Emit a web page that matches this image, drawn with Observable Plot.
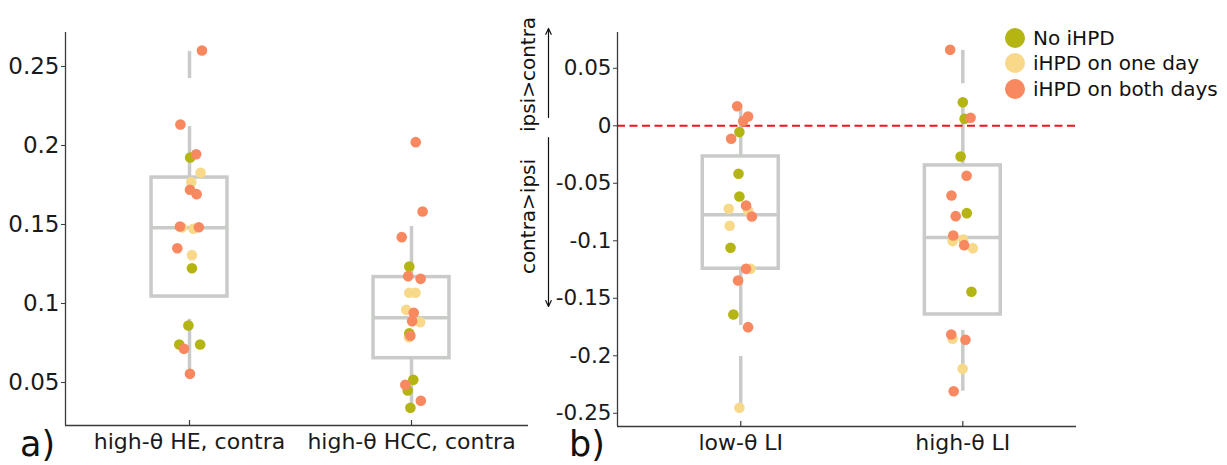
<!DOCTYPE html>
<html><head><meta charset="utf-8">
<script src="https://cdn.jsdelivr.net/npm/d3@7"></script>
<script src="https://cdn.jsdelivr.net/npm/@observablehq/plot@0.6"></script>
<style>
body{margin:0;background:#fff;font-family:"DejaVu Sans",sans-serif;}
#fig{position:relative;width:1227px;height:465px;overflow:hidden;background:#fff;}
#fig > div, #fig > svg{position:absolute;}
.lg{display:flex;align-items:center;height:25.5px;font-size:20px;color:#111;white-space:nowrap;}
.lg span.c{display:inline-block;width:20px;height:20px;border-radius:50%;margin-right:8px;}
</style></head><body><div id="fig"></div>
<script>
// ---- groups / legend ----
const groups = ["No iHPD", "iHPD on one day", "iHPD on both days"];
const groupColors = ["#b4b512", "#f8d98a", "#f8885f"];
const drawOrder = [1, 0, 2]; // yellow, green, orange on top

// ---- panel a) ----
const catsA = ["high-θ HE, contra", "high-θ HCC, contra"];
const yTicksA = [0.05, 0.1, 0.15, 0.2, 0.25];
const heValues = [0.2601,0.2133,0.1945,0.1924,0.1827,0.1768,0.1720,0.1692,0.1481,0.1487,0.1473,0.1483,0.1350,0.1306,0.1223,0.0861,0.0741,0.0741,0.0713,0.0555];
const heGroups = [2,2,2,0,1,1,2,2,1,2,1,2,2,1,0,0,0,0,2,2];
const heJitter = [0.056,-0.041,0.030,0.003,0.050,0.008,0.002,0.032,-0.034,-0.043,0.018,0.042,-0.055,0.011,0.011,-0.005,-0.046,0.048,-0.025,0.002];
const hccValues = [0.2021,0.1582,0.1420,0.1234,0.1173,0.1156,0.1068,0.1068,0.0960,0.0941,0.0888,0.0882,0.0812,0.0787,0.0796,0.0517,0.0486,0.0450,0.0385,0.0340];
const hccGroups = [2,2,2,0,2,2,1,1,1,2,2,1,0,1,2,0,2,0,2,0];
const hccJitter = [0.019,0.050,-0.044,-0.010,-0.015,0.041,-0.010,0.018,-0.024,0.010,0.003,0.039,-0.010,-0.012,-0.005,0.008,-0.028,-0.017,0.042,-0.005];
const q1A = [0.1044, 0.0654];
const medA = [0.148, 0.091];
const q3A = [0.1797, 0.1167];
const whiskerCatA = [0, 0, 0, 1, 1];
const whiskerFromA = [0.1797, 0.2424, 0.090, 0.1167, 0.0654];
const whiskerToA = [0.212, 0.2595, 0.057, 0.1487, 0.033];

// ---- panel b) ----
const catsB = ["low-θ LI", "high-θ LI"];
const yTicksB = [0.05, 0, -0.05, -0.1, -0.15, -0.2, -0.25];
const lowValues = [0.0170,0.0081,0.0040,-0.0055,-0.0113,-0.0417,-0.0615,-0.0722,-0.0737,-0.0693,-0.0789,-0.0870,-0.1061,-0.1244,-0.1244,-0.1345,-0.1641,-0.1751,-0.2452];
const lowGroups = [2,2,2,0,2,0,0,1,1,2,2,1,0,1,2,2,0,2,1];
const lowJitter = [-0.016,0.033,0.011,-0.006,-0.043,-0.010,-0.006,-0.054,0.033,0.024,0.050,-0.050,-0.046,0.044,0.024,-0.012,-0.033,0.033,-0.006];
const highValues = [0.0661,0.0205,0.0061,0.0070,-0.0267,-0.0435,-0.0606,-0.0760,-0.0786,-0.1003,-0.0954,-0.0989,-0.1038,-0.1064,-0.1443,-0.1852,-0.1815,-0.1861,-0.2113,-0.2308];
const highGroups = [2,0,0,2,0,2,2,0,2,1,2,1,2,1,0,1,2,2,1,2];
const highJitter = [-0.057,0,0.008,0.035,-0.010,0.017,-0.051,0.018,-0.032,-0.046,-0.043,0.002,0.006,0.045,0.039,-0.046,-0.052,0.012,-0.001,-0.041];
const q1B = [-0.1243, -0.1641];
const medB = [-0.0774, -0.0971];
const q3B = [-0.0267, -0.0345];
const whiskerCatB = [0, 0, 0, 1, 1, 1];
const whiskerFromB = [-0.0267, -0.1243, -0.2006, 0.0655, 0.022, -0.178];
const whiskerToB = [0.0148, -0.1737, -0.2461, 0.0365, -0.0345, -0.2308];
const referenceLine = [0];
const noteTexts = ["ipsi>contra", "contra>ipsi"];
const noteTextY = [0.0446, -0.0789];
const noteArrowFrom = [0.0072, -0.0102];
const noteArrowTo = [0.0846, -0.1571];

// ---- helpers ----
const boxGray = "#c8cbc8";
const boxHalf = 0.171;
const font = "DejaVu Sans";

function points(cat, values, grp, jit) {
  return values.map((v, i) => ({x: cat + jit[i], y: v, g: grp[i]}));
}
function sortPts(arr) {
  return arr.slice().sort((a, b) => drawOrder.indexOf(a.g) - drawOrder.indexOf(b.g));
}
function boxes(q1, med, q3) {
  return q1.map((_, i) => ({cat: i, q1: q1[i], med: med[i], q3: q3[i]}));
}
function whiskers(c, f, t) {
  return c.map((_, i) => ({cat: c[i], from: f[i], to: t[i]}));
}
const fmt = d => String(+d.toFixed(2));

function panel({width, marginLeft, marginRight, marginBottom, xDomain, yDomain, cats, yTicks, pts, bx, wk, tickFont, extraBefore = [], extraAfter = []}) {
  const ymin = yDomain[0];
  return Plot.plot({
    width, height: 465, marginLeft, marginRight, marginTop: 32, marginBottom,
    style: {background: "none", overflow: "visible", fontFamily: font, color: "#1a1a1a"},
    x: {domain: xDomain},
    y: {domain: yDomain},
    marks: [
      Plot.ruleX(wk, {x: "cat", y1: "from", y2: "to", stroke: boxGray, strokeWidth: 3.5}),
      Plot.rect(bx, {x1: d => d.cat - boxHalf, x2: d => d.cat + boxHalf, y1: "q1", y2: "q3", fill: "none", stroke: boxGray, strokeWidth: 3.5}),
      Plot.ruleY(bx, {x1: d => d.cat - boxHalf, x2: d => d.cat + boxHalf, y: "med", stroke: boxGray, strokeWidth: 3.5}),
      ...extraBefore,
      Plot.dot(sortPts(pts), {x: "x", y: "y", r: 5.3, fill: d => groupColors[d.g], stroke: "none"}),
      Plot.ruleX([xDomain[0]], {stroke: "#3a3a3a", strokeWidth: 1.3}),
      Plot.ruleY([ymin], {stroke: "#3a3a3a", strokeWidth: 1.3}),
      Plot.ruleX([0, 1], {y1: ymin, y2: ymin, insetTop: -5, stroke: "#3a3a3a", strokeWidth: 1.2}),
      Plot.axisY({ticks: yTicks, tickFormat: fmt, tickSize: 4, tickPadding: 2, fontSize: tickFont, stroke: "#3a3a3a"}),
      Plot.axisX({ticks: [0, 1], tickFormat: i => cats[i], tickSize: 0, tickPadding: 8, fontSize: 22}),
      ...extraAfter
    ]
  });
}

const fig = document.getElementById("fig");

const xDomA = [-0.5586, 1.527];
const yDomA = [0.0228, 0.2715];
const svgA = panel({
  width: 540, marginLeft: 65, marginRight: 12, marginBottom: 40,
  xDomain: xDomA, yDomain: yDomA, cats: catsA, yTicks: yTicksA, tickFont: 23,
  pts: [...points(0, heValues, heGroups, heJitter), ...points(1, hccValues, hccGroups, hccJitter)],
  bx: boxes(q1A, medA, q3A),
  wk: whiskers(whiskerCatA, whiskerFromA, whiskerToA)
});
svgA.style.left = "0px"; svgA.style.top = "0px";
fig.appendChild(svgA);

const xDomB = [-0.555, 1.512];
const yDomB = [-0.2615, 0.0811];
const notes = noteTexts.map((t, i) => ({text: t, y: noteTextY[i], from: noteArrowFrom[i], to: noteArrowTo[i]}));
const svgB = panel({
  width: 747, marginLeft: 137, marginRight: 151, marginBottom: 39,
  xDomain: xDomB, yDomain: yDomB, cats: catsB, yTicks: yTicksB, tickFont: 21.5,
  pts: [...points(0, lowValues, lowGroups, lowJitter), ...points(1, highValues, highGroups, highJitter)],
  bx: boxes(q1B, medB, q3B),
  wk: whiskers(whiskerCatB, whiskerFromB, whiskerToB),
  extraBefore: [
    Plot.ruleY(referenceLine, {stroke: "#f0141c", strokeWidth: 2, strokeDasharray: "8,4.5"})
  ],
  extraAfter: [
    Plot.text(notes, {x: () => xDomB[0], y: "y", text: "text", rotate: -90, dx: -89, fontSize: 20, fill: "#111"}),
    Plot.arrow(notes, {x1: () => xDomB[0], x2: () => xDomB[0], y1: "from", y2: "to", dx: -69, stroke: "#111", strokeWidth: 1.2, headLength: 8, headAngle: 50})
  ]
});
svgB.style.left = "480px"; svgB.style.top = "0px";
fig.appendChild(svgB);

// legend
const lg = document.createElement("div");
lg.style.left = "1005px"; lg.style.top = "25px";
groups.forEach((g, i) => {
  const row = document.createElement("div");
  row.className = "lg";
  row.innerHTML = `<span class="c" style="background:${groupColors[i]}"></span><span>${g}</span>`;
  lg.appendChild(row);
});
fig.appendChild(lg);

// panel letters
[["a)", 20], ["b)", 569]].forEach(([t, x]) => {
  const d = document.createElement("div");
  d.textContent = t;
  d.style.cssText = `left:${x}px;top:428.6px;font-size:35px;line-height:0.9;color:#111;font-weight:normal;`;
  fig.appendChild(d);
});
</script>
</body></html>
